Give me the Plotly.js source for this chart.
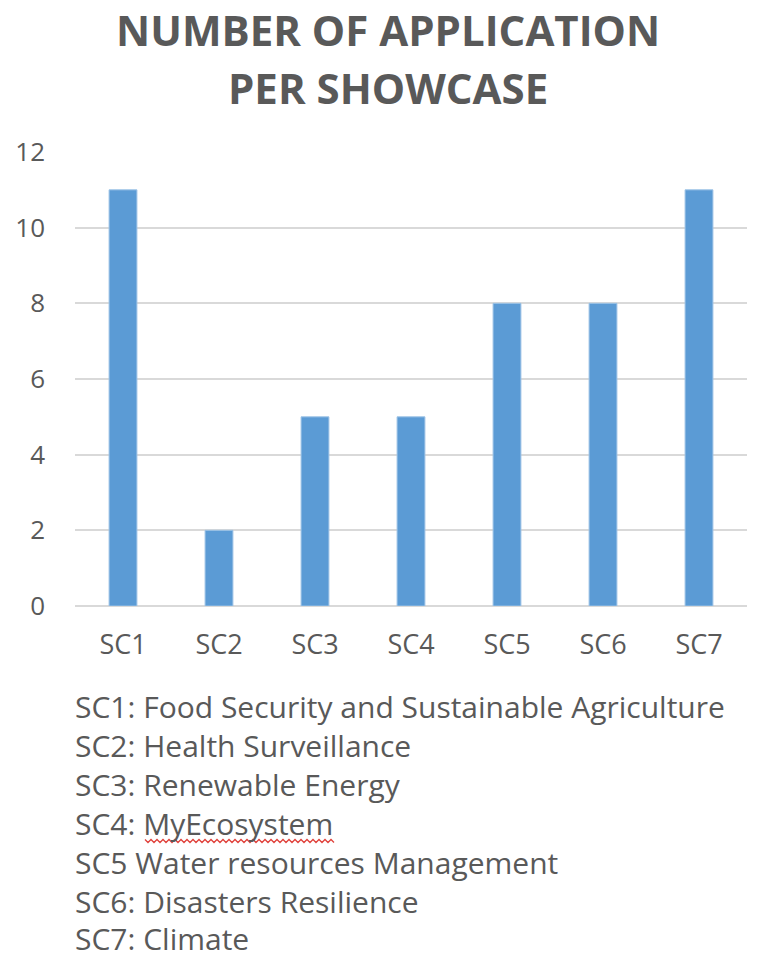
<!DOCTYPE html>
<html>
<head>
<meta charset="utf-8">
<script src="https://cdn.plot.ly/plotly-3.0.1.min.js"></script>
<style>html,body{margin:0;padding:0;background:#fff;}#chart{width:758px;height:960px;}</style>
</head>
<body>
<div id="chart"></div>
<script>
const categories = ["SC1", "SC2", "SC3", "SC4", "SC5", "SC6", "SC7"];
const applications = [11, 2, 5, 5, 8, 8, 11];
const yTicks = [0, 2, 4, 6, 8, 10, 12];
const legendLines = [
  "SC1: Food Security and Sustainable Agriculture",
  "SC2: Health Surveillance",
  "SC3: Renewable Energy",
  "SC4: MyEcosystem",
  "SC5 Water resources Management",
  "SC6: Disasters Resilience",
  "SC7: Climate"
];
const titleLines = ["NUMBER OF APPLICATION", "PER SHOWCASE"];

const FONT = "Open Sans, Noto Sans, sans-serif";
const GREY = "#595959";

const mL = 75, mR = 11, mT = 152, mB = 354, H = 960, W = 758;
const plotH = H - mT - mB, plotW = W - mL - mR;
function paperY(px) { return (H - mB - px) / plotH; }
function paperX(px) { return (px - mL) / plotW; }

const legendY = [706, 745, 784, 823, 862, 901, 938];
const annotations = legendLines.map((t, i) => ({
  text: t, xref: "paper", yref: "paper", x: paperX(73), y: paperY(legendY[i]),
  xanchor: "left", yanchor: "middle", showarrow: false,
  font: {family: FONT, size: 30, color: GREY}
}));
const titleY = [30, 87];
titleLines.forEach((t, i) => annotations.push({
  text: "<b>" + t + "</b>", xref: "paper", yref: "paper", x: paperX(388), y: paperY(titleY[i]),
  xanchor: "center", yanchor: "middle", showarrow: false,
  font: {family: FONT, size: 42, color: GREY}
}));

const data = [{
  type: "bar",
  x: categories,
  y: applications,
  marker: {color: "#5b9bd5", line: {color: "#9dc3e6", width: 1}},
  hoverinfo: "x+y"
}];

const layout = {
  width: W, height: H,
  margin: {l: mL, r: mR, t: mT, b: mB, pad: 0},
  paper_bgcolor: "#fff", plot_bgcolor: "#fff",
  showlegend: false,
  bargap: 0.71,
  xaxis: {
    type: "category", showgrid: false, zeroline: false, showline: false,
    ticks: "", tickfont: {family: FONT, size: 27, color: GREY}, ticklabelstandoff: 20
  },
  yaxis: {
    range: [0, 12], tickvals: yTicks, ticktext: yTicks.map(String),
    showgrid: true, gridcolor: "#d9d9d9", gridwidth: 2,
    zeroline: true, zerolinecolor: "#d9d9d9", zerolinewidth: 2,
    showline: false, ticks: "", ticklabelstandoff: 29,
    tickfont: {family: FONT, size: 26, color: GREY}
  },
  annotations: annotations,
  shapes: [{
    type: "path", xref: "paper", yref: "paper",
    path: (function () {
      const x0 = 145, x1 = 334, yb = 841;
      let p = "";
      for (let x = x0, k = 0; x <= x1; x += 3, k++) {
        const yp = paperY(yb + (k % 2 ? 1.5 : -1.5));
        p += (k === 0 ? "M" : "L") + paperX(x) + "," + yp;
      }
      return p;
    })(),
    line: {color: "#e0403a", width: 1.3}
  }]
};

Plotly.newPlot("chart", data, layout, {displayModeBar: false, staticPlot: true});
</script>
</body>
</html>
